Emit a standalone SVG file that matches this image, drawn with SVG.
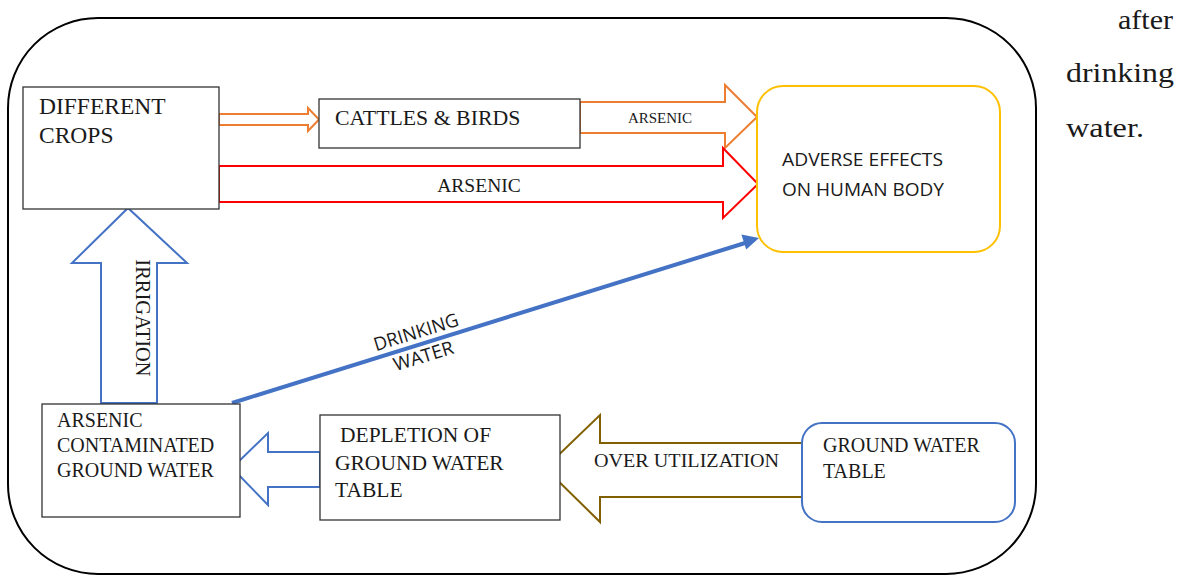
<svg xmlns="http://www.w3.org/2000/svg" width="1178" height="576" viewBox="0 0 1178 576">
<defs>
<style>
.serif{font-family:"Liberation Serif","Times New Roman",serif;fill:#1a1a1a}
.sans{font-family:"Open Sans","Noto Sans",sans-serif;fill:#1a1a1a}
.box{fill:#fff;stroke:#333;stroke-width:1.3}
.blk{fill:#fff;stroke-width:2;stroke-linejoin:miter}
</style>
</defs>
<rect width="1178" height="576" fill="#fff"/>
<g id="frame">
<rect x="8" y="18" width="1028" height="556" rx="90" ry="90" fill="none" stroke="#000" stroke-width="2"/>
</g>
<g id="side-text" class="serif" font-size="28">
<text x="1173" y="29" text-anchor="end" textLength="55" lengthAdjust="spacingAndGlyphs">after</text>
<text x="1066" y="82" textLength="108" lengthAdjust="spacingAndGlyphs">drinking</text>
<text x="1066" y="137" textLength="78" lengthAdjust="spacingAndGlyphs">water.</text>
</g>
<g id="connectors">
<polygon class="blk" stroke="#ED7D31" points="219,114 308,114 308,108 319,119.5 308,131 308,125 219,125"/>
<polygon class="blk" stroke="#ED7D31" points="580,102 725,102 725,85 757,117 725,148 725,133 580,133"/>
<polygon class="blk" stroke="#FF0000" stroke-width="2.5" points="219,166 723,166 723,148 758,184 723,218 723,202 219,202"/>
<polygon class="blk" stroke="#4472C4" points="101,403 101,263 72,263 128,208 187,263 157,263 157,403"/>
<polygon class="blk" stroke="#4472C4" points="320,452 268,452 268,433 232,468 268,505 268,487 320,487"/>
<polygon class="blk" stroke="#806000" points="802,443 600,443 600,415 545,468 600,522 600,497 802,497"/>
<line x1="232" y1="403" x2="745" y2="243" stroke="#4472C4" stroke-width="4"/>
<polygon points="759,238 746.2,249.5 741.4,234.6" fill="#4472C4"/>
<text class="serif" x="660" y="123" font-size="15" text-anchor="middle">ARSENIC</text>
<text class="serif" x="479" y="192" font-size="19.5" text-anchor="middle">ARSENIC</text>
<text class="serif" font-size="20.5" transform="translate(136,318) rotate(90)" text-anchor="middle">IRRIGATION</text>
<text class="serif" x="594" y="467" font-size="19" textLength="185" lengthAdjust="spacingAndGlyphs">OVER UTILIZATION</text>
<g transform="translate(420,345) rotate(-17.2)">
<text class="sans" x="0" y="-7" font-size="18.5" text-anchor="middle" textLength="88" lengthAdjust="spacingAndGlyphs">DRINKING</text>
<text class="sans" x="0" y="18" font-size="18.5" text-anchor="middle" textLength="62" lengthAdjust="spacingAndGlyphs">WATER</text>
</g>
</g>
<g id="node-crops">
<rect class="box" x="23" y="87" width="196" height="122"/>
<text class="serif" x="39" y="114" font-size="23.5">DIFFERENT</text>
<text class="serif" x="39" y="143" font-size="23.5">CROPS</text>
</g>
<g id="node-cattles">
<rect class="box" x="319" y="99" width="261" height="49"/>
<text class="serif" x="335" y="125" font-size="21.8">CATTLES &amp; BIRDS</text>
</g>
<g id="node-adverse">
<rect x="757" y="86" width="243" height="166" rx="26" ry="26" fill="#fff" stroke="#FFC000" stroke-width="2"/>
<text class="sans" x="782" y="166" font-size="17.5" textLength="161" lengthAdjust="spacingAndGlyphs">ADVERSE EFFECTS</text>
<text class="sans" x="782" y="196" font-size="17.5" textLength="162" lengthAdjust="spacingAndGlyphs">ON HUMAN BODY</text>
</g>
<g id="node-arsenic">
<rect class="box" x="42" y="404" width="198" height="113"/>
<text class="serif" x="57" y="427" font-size="20">ARSENIC</text>
<text class="serif" x="57" y="452" font-size="20">CONTAMINATED</text>
<text class="serif" x="57" y="477" font-size="20">GROUND WATER</text>
</g>
<g id="node-depletion">
<rect class="box" x="320" y="415" width="240" height="105"/>
<text class="serif" x="340" y="442" font-size="21.5">DEPLETION OF</text>
<text class="serif" x="335" y="470" font-size="21.5">GROUND WATER</text>
<text class="serif" x="335" y="497" font-size="21.5">TABLE</text>
</g>
<g id="node-gwt">
<rect x="802" y="423" width="213" height="99" rx="20" ry="20" fill="#fff" stroke="#4472C4" stroke-width="2"/>
<text class="serif" x="823" y="452" font-size="20">GROUND WATER</text>
<text class="serif" x="823" y="478" font-size="20">TABLE</text>
</g>
</svg>
